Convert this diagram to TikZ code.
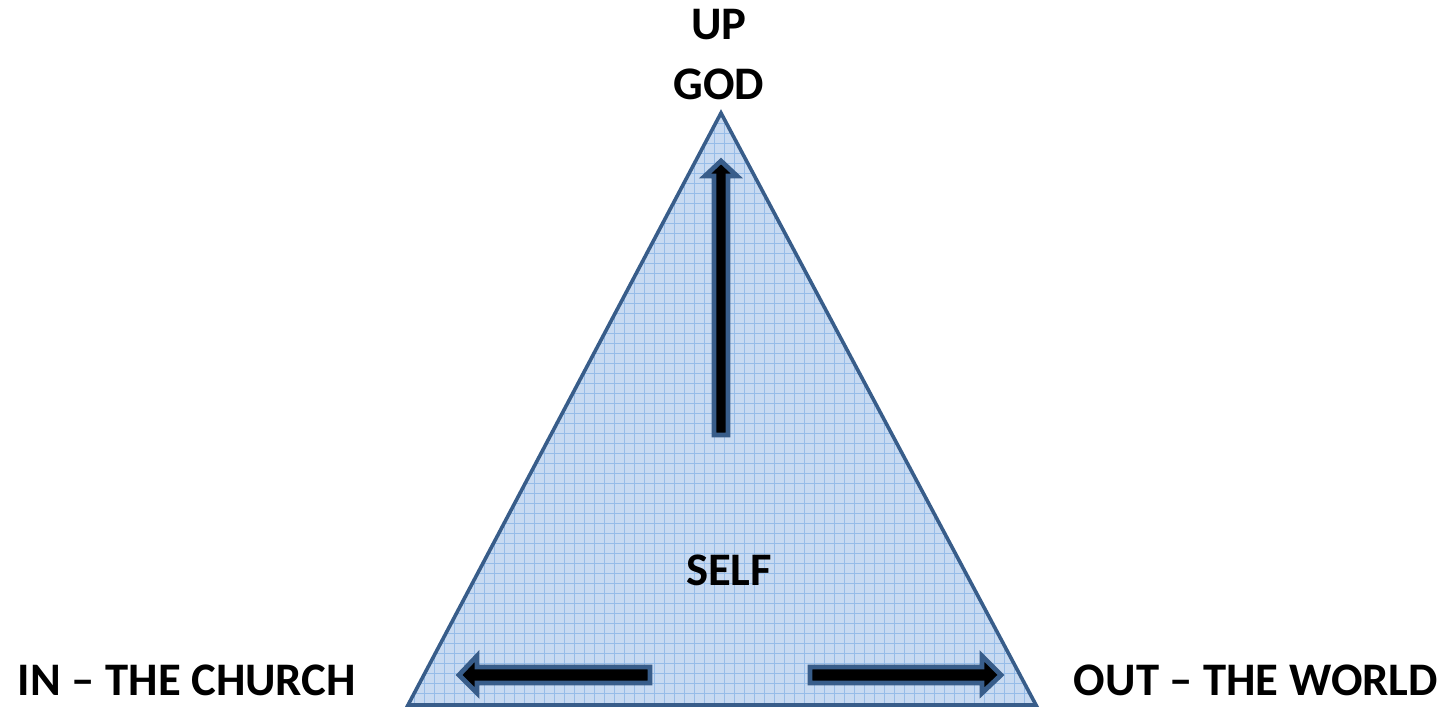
\documentclass[tikz,border=0pt]{standalone}
\usepackage{fontspec}
\setmainfont{Carlito}
\usetikzlibrary{calc}

\definecolor{shapeblue}{RGB}{56,93,138}
\definecolor{paleblue}{RGB}{200,218,241}
\definecolor{gridblue}{RGB}{150,188,232}

\begin{document}
\begin{tikzpicture}[
  x=0.75pt, y=-0.75pt,
  font=\fontsize{35}{40}\selectfont\bfseries,
  lbl/.style={inner sep=0pt, anchor=base, text=black},
  blockarrow/.style={fill=black, draw=shapeblue, line width=3.6pt, line join=miter}
]
\useasboundingbox (0,0) rectangle (1453,708);

% corners of the triangle
\coordinate (apex) at (721,113);
\coordinate (baseL) at (408,705);
\coordinate (baseR) at (1036,705);

% filled triangle with grid paper
\fill[paleblue] (apex) -- (baseL) -- (baseR) -- cycle;
\begin{scope}
  \clip (apex) -- (baseL) -- (baseR) -- cycle;
  \foreach \gx in {404,414,...,1044} \draw[gridblue, line width=0.6pt] (\gx,100) -- (\gx,710);
  \foreach \gy in {103,113,...,713} \draw[gridblue, line width=0.6pt] (400,\gy) -- (1044,\gy);
\end{scope}
\draw[shapeblue, line width=2.7pt, line join=miter] (apex) -- (baseL) -- (baseR) -- cycle;

% block arrows
\draw[blockarrow] (714,435) -- (714,176) -- (705,176) -- (721,161) -- (737,176) -- (728,176) -- (728,435) -- cycle;
\draw[blockarrow] (650,667) -- (477,667) -- (477,656) -- (459,675) -- (477,693) -- (477,683) -- (650,683) -- cycle;
\draw[blockarrow] (810,667) -- (982,667) -- (982,656) -- (1001,675) -- (982,693) -- (982,683) -- (810,683) -- cycle;

% labels
\node[lbl] (up) at (719,39) {UP};
\node[lbl] (god) at (719,99) {GOD};
\node[lbl] (self) at (729,585) {SELF};
\node[lbl] (church) at (187,695) {IN – THE CHURCH};
\node[lbl] (world) at (1256,695) {OUT – THE WORLD};
\end{tikzpicture}
\end{document}
